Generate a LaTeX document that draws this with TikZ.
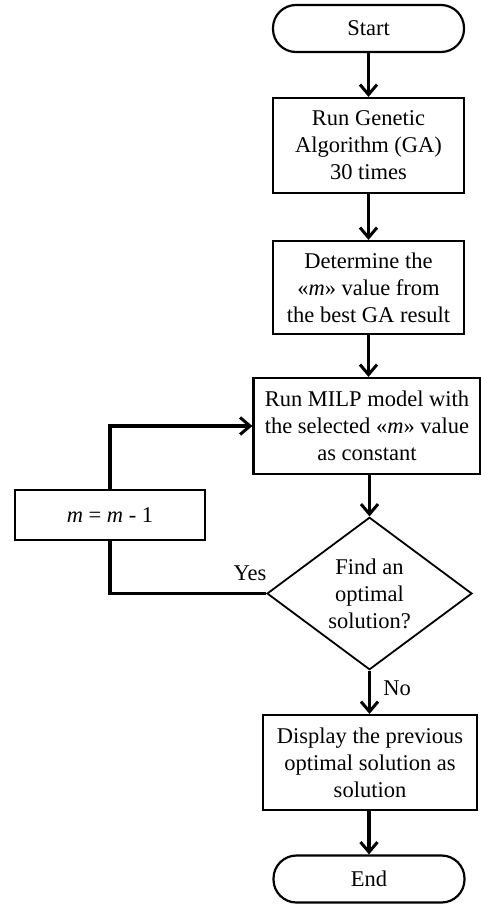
\documentclass[tikz,border=0pt]{standalone}
\usepackage{fontspec}
\setmainfont{Liberation Serif}
\usetikzlibrary{arrows.meta,shapes.geometric}
\begin{document}
\begin{tikzpicture}[x=1pt,y=-1pt,
  txt/.style={font=\fontsize{22.5}{27}\selectfont, align=center, inner sep=0pt},
  procbox/.style={txt, draw, line width=2.2pt, minimum height=#1},
  procbox/.default=95pt,
  term/.style={txt, draw, line width=2.2pt, rounded corners=23pt, minimum width=191pt, minimum height=47pt},
  decision/.style={txt, draw, line width=1.8pt, diamond, minimum width=205pt, minimum height=151pt, inner sep=0pt},
  flow/.style={line width=3.2pt, -{Straight Barb[length=10pt,width=17pt,line width=3pt]}},
  plainline/.style={line width=3.2pt},
  lbl/.style={font=\fontsize{22.5}{27}\selectfont, inner sep=0pt}
]
\useasboundingbox (0,0) rectangle (481,904);
\node[term] (start) at (368.5,28.5) {Start};
\node[procbox, minimum width=191pt] (ga) at (368.5,145.5) {Run Genetic\\Algorithm (GA)\\30 times};
\node[procbox=93pt, minimum width=191pt] (det) at (368.5,287.5) {Determine the\\«\textit{m}» value from\\the best GA result};
\node[procbox=96pt, minimum width=227pt] (milp) at (367,426) {Run MILP model with\\the selected «\textit{m}» value\\as constant};
\node[decision] (dec) at (369.5,593.5) {Find an\\optimal\\solution?};
\node[procbox, minimum width=214pt] (disp) at (370,762.5) {Display the previous\\optimal solution as\\solution};
\node[term] (end) at (369,879) {End};
\node[procbox=50pt, minimum width=190pt] (dec1) at (110,515) {\textit{m} = \textit{m} - 1};
\node[lbl] (yes) at (250,573) {Yes};
\node[lbl] (no) at (397,688) {No};

\draw[flow] (start.south) -- (ga.north);
\draw[flow] (ga.south) -- (det.north);
\draw[flow] (det.south) -- (det.south |- milp.north);
\draw[flow] (milp.south -| dec.north) -- (dec.north);
\draw[flow] (dec.south) -- (dec.south |- disp.north);
\draw[flow] (disp.south -| end.north) -- (end.north);
\draw[plainline] (dec.west) -| (dec1.south);
\draw[flow] (dec1.north) |- (milp.west);
\end{tikzpicture}
\end{document}
